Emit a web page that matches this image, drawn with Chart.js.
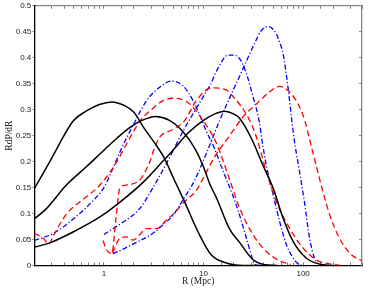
<!DOCTYPE html>
<html>
<head>
    <title>RdP/dR</title>
    <script src="https://cdn.jsdelivr.net/npm/chart.js"></script>
    <style>
        body { margin: 0; background: #fff; }
        #chartBox { width: 370px; height: 294px; }
    </style>
</head>
<body>
    <div id="chartBox">
        <canvas id="myChart" width="370" height="294"></canvas>
    </div>

    <script>
        // values (R in Mpc, RdP/dR)
        // black solid
        const solidLowR  = [0.2, 0.29, 0.496, 0.675, 0.9, 1.2, 1.6, 2.0, 2.5, 3.36, 3.98, 5.0, 6.46, 8.8, 12, 17.6, 25, 40];
        const solidLowP  = [0.148, 0.202, 0.279, 0.298, 0.31, 0.315, 0.308, 0.295, 0.266, 0.231, 0.209, 0.168, 0.1225, 0.065, 0.02, 0.004, 0, 0];
        const solidMidR  = [0.2, 0.26, 0.42, 0.666, 1.0, 1.35, 1.8, 2.32, 3.3, 4.5, 6.2, 8.2, 9.8, 11.5, 13.5, 18.3, 23.1, 31.5, 40, 55];
        const solidMidP  = [0.09, 0.108, 0.155, 0.19, 0.222, 0.245, 0.265, 0.278, 0.287, 0.28, 0.258, 0.225, 0.194, 0.158, 0.13, 0.07, 0.044, 0.011, 0.002, 0];
        const solidHighR = [0.2, 0.29, 0.496, 0.92, 1.46, 2.5, 3.98, 4.94, 7, 9.9, 13, 16.3, 20, 23.1, 30.2, 39.5, 50, 63, 79.5, 108, 145, 200];
        const solidHighP = [0.035, 0.044, 0.065, 0.094, 0.1225, 0.161, 0.2025, 0.222, 0.255, 0.279, 0.292, 0.297, 0.292, 0.283, 0.245, 0.193, 0.149, 0.091, 0.046, 0.014, 0.003, 0];

        // red dashed
        const dashLowR  = [0.2, 0.248, 0.279, 0.312, 0.425, 0.625, 0.84, 1.03, 1.35, 1.9, 2.32, 3.0, 3.98, 5.13, 7.26, 9.9, 11.5, 13.5, 18.3, 23.1, 31.5, 42.7, 58, 75];
        const dashLowP  = [0.062, 0.052, 0.041, 0.058, 0.1, 0.128, 0.148, 0.167, 0.2, 0.252, 0.279, 0.3, 0.318, 0.322, 0.311, 0.279, 0.26, 0.235, 0.165, 0.11, 0.059, 0.027, 0.009, 0.002];
        const dashMidR  = [0.98, 1.05, 1.2, 1.32, 1.44, 1.7, 2.0, 2.3, 2.93, 3.16, 3.63, 4.94, 6.46, 8.5, 12, 16.9, 20.5, 23.1, 29.1, 34, 42.7, 53.8, 73, 99.5, 135, 185, 250];
        const dashMidP  = [0.048, 0.032, 0.023, 0.09, 0.148, 0.155, 0.158, 0.165, 0.2025, 0.222, 0.247, 0.262, 0.279, 0.318, 0.342, 0.338, 0.322, 0.31, 0.279, 0.247, 0.181, 0.123, 0.072, 0.034, 0.011, 0.003, 0];
        const dashHighR = [1.22, 1.44, 1.68, 1.96, 2.28, 2.67, 3.36, 4.23, 5.33, 6.2, 8.5, 10.3, 13, 18.3, 24.9, 34, 46, 58, 73, 89, 104, 116, 135, 158, 185, 231, 293, 370, 390];
        const dashHighP = [0.024, 0.052, 0.055, 0.049, 0.059, 0.071, 0.071, 0.087, 0.105, 0.12, 0.145, 0.174, 0.21, 0.25, 0.286, 0.311, 0.334, 0.345, 0.334, 0.311, 0.279, 0.243, 0.193, 0.142, 0.0975, 0.053, 0.024, 0.011, 0.009];

        // blue dash-dot
        const dotLowR  = [0.2, 0.312, 0.496, 0.788, 1.0, 1.25, 1.5, 2.0, 2.7, 3.8, 4.75, 6.2, 7.83, 9.14, 10.7, 12.7, 16, 19.5, 23.1, 26.9, 30.2, 32.7, 36];
        const dotLowP  = [0.048, 0.062, 0.09, 0.126, 0.15, 0.19, 0.225, 0.273, 0.318, 0.346, 0.355, 0.346, 0.318, 0.29, 0.258, 0.228, 0.178, 0.137, 0.096, 0.053, 0.02, 0.002, 0];
        const dotMidR  = [1.0, 1.46, 2.3, 2.88, 4.23, 6.2, 8.18, 10.3, 11.5, 14, 17.6, 20, 23.1, 27, 31.5, 36.6, 38.5, 42.7, 50, 58, 68, 79.5, 89, 100];
        const dotMidP  = [0.06, 0.08, 0.11, 0.139, 0.196, 0.258, 0.298, 0.33, 0.345, 0.38, 0.405, 0.405, 0.398, 0.369, 0.324, 0.273, 0.243, 0.193, 0.136, 0.085, 0.04, 0.014, 0.003, 0];
        const dotHighR = [1.23, 1.5, 2.0, 3.1, 4.0, 5.0, 6.2, 8.2, 11, 14.5, 19, 23.1, 27, 32.6, 38, 44.5, 53.8, 58, 63, 70.5, 78, 81, 92, 104, 116, 130, 140];
        const dotHighP = [0.023, 0.03, 0.042, 0.062, 0.08, 0.098, 0.126, 0.165, 0.222, 0.279, 0.33, 0.365, 0.394, 0.428, 0.452, 0.46, 0.446, 0.43, 0.407, 0.343, 0.27, 0.245, 0.181, 0.117, 0.053, 0.014, 0.003];

        const xLabels = [1, 10, 100];

        function pts(rs, ps) {
            return rs.map((r, i) => ({ x: r, y: ps[i] }));
        }

        function solid(rs, ps) {
            return { data: pts(rs, ps), borderColor: '#000', borderWidth: 1.5 };
        }
        function dashed(rs, ps) {
            return { data: pts(rs, ps), borderColor: '#ff0000', borderWidth: 1.3, borderDash: [6, 3.5] };
        }
        function dashDot(rs, ps) {
            return { data: pts(rs, ps), borderColor: '#0000ff', borderWidth: 1.3, borderDash: [5, 2.2, 1.2, 2.2] };
        }

        const tickFont = { family: 'Liberation Sans', size: 8 };
        const labelFont = { family: 'Liberation Serif', size: 9.5 };

        const ctx = document.getElementById('myChart').getContext('2d');
        new Chart(ctx, {
            type: 'line',
            data: {
                datasets: [
                    solid(solidLowR, solidLowP),
                    solid(solidMidR, solidMidP),
                    solid(solidHighR, solidHighP),
                    dashed(dashLowR, dashLowP),
                    dashed(dashMidR, dashMidP),
                    dashed(dashHighR, dashHighP),
                    dashDot(dotLowR, dotLowP),
                    dashDot(dotMidR, dotMidP),
                    dashDot(dotHighR, dotHighP)
                ]
            },
            options: {
                responsive: false,
                animation: false,
                parsing: false,
                elements: {
                    point: { radius: 0 },
                    line: { tension: 0.35, cubicInterpolationMode: 'monotone', fill: false }
                },
                layout: { padding: { left: 0, right: 8, top: 5, bottom: 0 } },
                plugins: { legend: { display: false }, tooltip: { enabled: false } },
                scales: {
                    x: {
                        type: 'logarithmic',
                        position: 'bottom',
                        min: 0.2,
                        max: 390,
                        border: { color: '#000', width: 1.3 },
                        grid: { drawOnChartArea: false, tickLength: -3, color: '#777' },
                        ticks: {
                            autoSkip: false,
                            maxRotation: 0,
                            padding: 6,
                            font: tickFont,
                            color: '#222',
                            callback: v => xLabels.includes(v) ? String(v) : ''
                        },
                        title: {
                            display: true,
                            text: 'R (Mpc)',
                            font: labelFont,
                            color: '#222',
                            padding: { top: 0, bottom: 6.5 }
                        },
                        afterFit: s => { s.height = 28.5; }
                    },
                    x2: {
                        type: 'logarithmic',
                        position: 'top',
                        min: 0.2,
                        max: 390,
                        border: { color: '#888', width: 1.3 },
                        grid: { drawOnChartArea: false, tickLength: -3, color: '#888' },
                        ticks: { display: false, autoSkip: false },
                        afterFit: s => { s.height = 0; }
                    },
                    y: {
                        min: 0,
                        max: 0.5,
                        border: { color: '#000', width: 1.3 },
                        grid: { drawOnChartArea: false, tickLength: 2, color: '#888' },
                        ticks: {
                            stepSize: 0.05,
                            padding: 1,
                            font: tickFont,
                            color: '#222',
                            callback: v => String(+v.toFixed(2))
                        },
                        title: {
                            display: true,
                            text: 'RdP/dR',
                            font: labelFont,
                            color: '#222',
                            padding: { top: 3.5, bottom: 0 }
                        },
                        afterFit: s => { s.width = 34.3; }
                    },
                    y2: {
                        position: 'right',
                        min: 0,
                        max: 0.5,
                        border: { color: '#888', width: 1.3 },
                        grid: { drawOnChartArea: false, tickLength: -3, color: '#888' },
                        ticks: { display: false, stepSize: 0.05 },
                        afterFit: s => { s.width = 0; }
                    }
                }
            }
        });
    </script>
</body>
</html>
